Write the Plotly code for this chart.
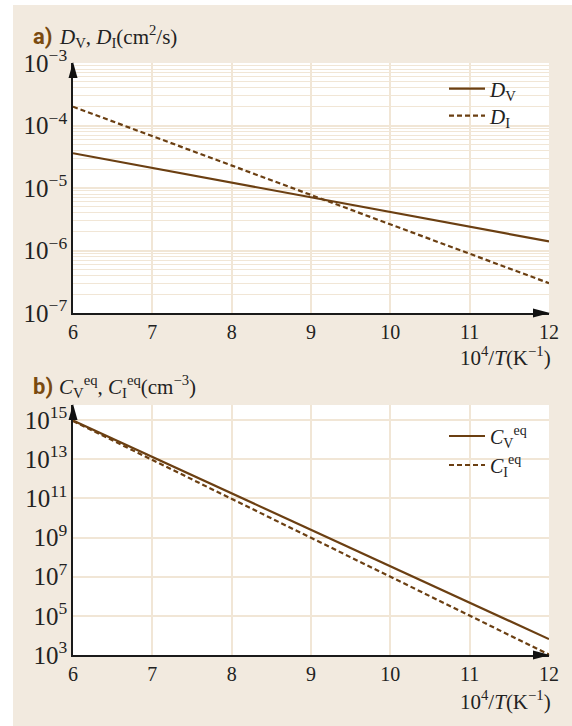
import plotly.graph_objects as go

# ---------------- data ----------------
x_inv_T = [6, 12]                       # 10^4/T (K^-1)
D_V = [3.6e-5, 1.4e-6]                  # cm^2/s
D_I = [2.0e-4, 3.0e-7]                  # cm^2/s
C_V_eq = [9.5e14, 6.5e3]                # cm^-3
C_I_eq = [9.0e14, 1.05e3]               # cm^-3

x_ticks = [6, 7, 8, 9, 10, 11, 12]

# ---------------- styling ----------------
W, H = 572, 726
ML, MR, MT, MB = 73, 23, 63, 71
BG = "#F2EADF"
GRID = "#F1E6D6"
LINE = "#6B3F12"
BROWN = "#7A4A10"
SERIF = "Liberation Serif"
TXT = "#222"

PW = W - ML - MR
PH = H - MT - MB


def px(xp):
    return (xp - ML) / PW


def py(yp):
    return (H - MB - yp) / PH


top_dom = [py(313), py(63)]
bot_dom = [py(655), py(405)]

fig = go.Figure()

series = [
    (D_V, "<i>D</i><sub>V</sub>", "solid", "x", "y", "legend"),
    (D_I, "<i>D</i><sub>I</sub>", "5px,3px", "x", "y", "legend2"),
    (C_V_eq, "<i>C</i><sub>V</sub><sup>eq</sup>", "solid", "x2", "y2", "legend3"),
    (C_I_eq, "<i>C</i><sub>I</sub><sup>eq</sup>", "5px,3px", "x2", "y2", "legend4"),
]
for yv, nm, dash, xa, ya, lg in series:
    fig.add_trace(go.Scatter(x=x_inv_T, y=yv, mode="lines", name=nm,
                             line=dict(color=LINE, width=2.2, dash=dash),
                             xaxis=xa, yaxis=ya, legend=lg))

xaxis_common = dict(range=[6, 12], tickvals=x_ticks, showgrid=True, gridcolor=GRID, gridwidth=1.5,
                    showline=True, linecolor="#1a1a1a", linewidth=1.6, ticks="", zeroline=False,
                    tickfont=dict(family=SERIF, size=20, color=TXT))
yaxis_common = dict(type="log", showgrid=True, gridcolor=GRID, gridwidth=1.5,
                    showline=True, linecolor="#1a1a1a", linewidth=1.6, ticks="", zeroline=False,
                    exponentformat="power", tickfont=dict(family=SERIF, size=20, color=TXT))


def leg(center_y, size=21):
    return dict(x=px(444), y=py(center_y), xanchor="left", yanchor="middle",
                bgcolor="rgba(0,0,0,0)", font=dict(family=SERIF, size=size, color=TXT),
                itemwidth=36, tracegroupgap=0)


fig.update_layout(
    width=W, height=H, autosize=False,
    margin=dict(l=ML, r=MR, t=MT, b=MB),
    paper_bgcolor=BG, plot_bgcolor="white",
    xaxis=dict(domain=[0, 1], anchor="y", **xaxis_common),
    yaxis=dict(domain=top_dom, anchor="x", range=[-7, -3], dtick=1,
               minor=dict(showgrid=True, gridcolor=GRID, gridwidth=1.2, dtick="D1", ticks=""),
               **yaxis_common),
    xaxis2=dict(domain=[0, 1], anchor="y2", **xaxis_common),
    yaxis2=dict(domain=bot_dom, anchor="x2", range=[3, 15.77], dtick=2, tick0=1, **yaxis_common),
    legend=leg(89), legend2=leg(116), legend3=leg(436, 20), legend4=leg(465, 20),
    showlegend=True,
)

# white strips (outside beige panel)
fig.add_shape(type="rect", xref="paper", yref="paper", x0=px(0), x1=px(13), y0=py(H), y1=py(0),
              fillcolor="white", line=dict(width=0), layer="below")
fig.add_shape(type="rect", xref="paper", yref="paper", x0=px(0), x1=px(W), y0=py(5), y1=py(0),
              fillcolor="white", line=dict(width=0), layer="below")


def tri(points):
    return "M " + " L ".join(f"{px(a)},{py(b)}" for a, b in points) + " Z"


for path in [
    tri([(73, 62), (68.5, 78), (77.5, 78)]),        # top y arrow
    tri([(550, 313), (533, 308.5), (533, 317.5)]),  # top x arrow
    tri([(73, 404), (68.5, 420), (77.5, 420)]),     # bottom y arrow
    tri([(550, 655), (533, 650.5), (533, 659.5)]),  # bottom x arrow
]:
    fig.add_shape(type="path", xref="paper", yref="paper", path=path,
                  fillcolor="#111", line=dict(width=0), layer="above")

ann = []
ann.append(dict(x=px(31), y=py(36), text="<b>a)</b>", font=dict(family="Roboto", size=22, color=BROWN)))
ann.append(dict(x=px(57), y=py(36), text="<i>D</i><sub>V</sub>, <i>D</i><sub>I</sub>(cm<sup>2</sup>/s)",
                font=dict(family=SERIF, size=21, color=TXT)))
ann.append(dict(x=px(31), y=py(386), text="<b>b)</b>", font=dict(family="Roboto", size=22, color=BROWN)))
ann.append(dict(x=px(57), y=py(386),
                text="<i>C</i><sub>V</sub><sup>eq</sup>, <i>C</i><sub>I</sub><sup>eq</sup>(cm<sup>−3</sup>)",
                font=dict(family=SERIF, size=21, color=TXT)))
for yy in (356, 700):
    ann.append(dict(x=px(553), y=py(yy), xanchor="right",
                    text="10<sup>4</sup>/<i>T</i>(K<sup>−1</sup>)",
                    font=dict(family=SERIF, size=21, color=TXT)))
for a in ann:
    a.setdefault("xanchor", "left")
    a.update(xref="paper", yref="paper", yanchor="middle", showarrow=False)
    fig.add_annotation(**a)

fig.write_html("out.html")
